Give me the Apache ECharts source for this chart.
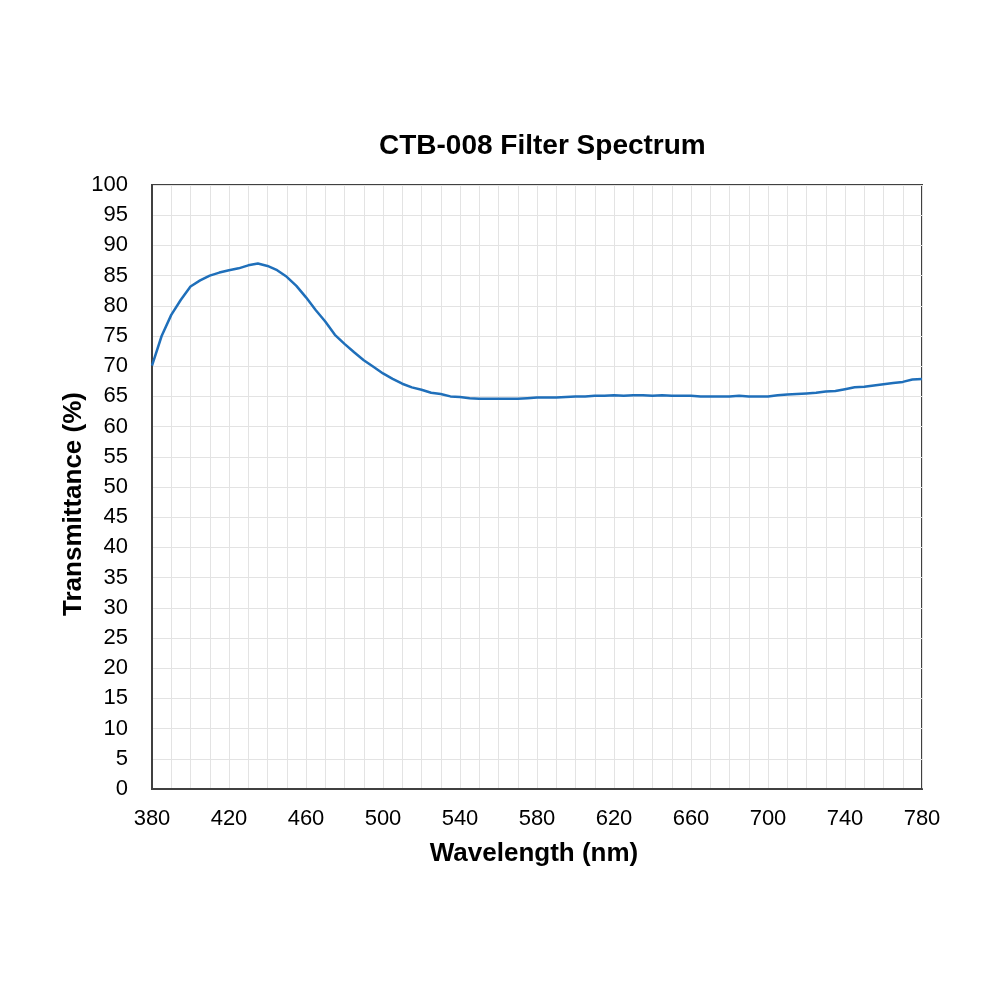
<html>
<head>
    <meta charset="UTF-8">
    <title>CTB-008 Filter Spectrum</title>
    <script src="https://cdn.jsdelivr.net/npm/echarts@6/dist/echarts.min.js"></script>
    <style>
        body { padding: 0; margin: 0; overflow: hidden; background: #fff; }
        #chart { width: 1000px; height: 1000px; }
    </style>
</head>
<body>
<div id="chart"></div>
<script>
    // wavelength (nm), every 5 nm
    const wavelengths = [];
    for (let w = 380; w <= 780; w += 5) wavelengths.push(w);

    // transmittance (%)
    const transmittance = [
        70.1, 75.0, 78.5, 81.0, 83.2, 84.2, 85.0, 85.5, 85.9, 86.2,
        86.7, 87.0, 86.6, 85.9, 84.8, 83.3, 81.4, 79.3, 77.4, 75.2,
        73.7, 72.3, 71.0, 69.9, 68.8, 67.9, 67.1, 66.5, 66.1, 65.6,
        65.4, 65.0, 64.9, 64.7, 64.6, 64.6, 64.6, 64.6, 64.6, 64.7,
        64.8, 64.8, 64.8, 64.9, 65.0, 65.0, 65.1, 65.1, 65.2, 65.1,
        65.2, 65.2, 65.1, 65.2, 65.1, 65.1, 65.1, 65.0, 65.0, 65.0,
        65.0, 65.1, 65.0, 65.0, 65.0, 65.2, 65.3, 65.4, 65.5, 65.6,
        65.8, 65.9, 66.2, 66.5, 66.6, 66.8, 67.0, 67.2, 67.4, 67.8,
        67.9
    ];

    const font = '"Liberation Sans", Arial, sans-serif';
    const ec = echarts.init(document.getElementById('chart'));

    const option = {
        animation: false,
        title: {
            text: 'CTB-008 Filter Spectrum',
            left: 374,
            top: 127,
            textStyle: { fontFamily: font, fontSize: 28, fontWeight: 'bold', color: '#000' }
        },
        grid: {
            left: 152, right: 78, top: 185, bottom: 211,
            show: true, borderColor: '#404040', borderWidth: 2
        },
        xAxis: {
            type: 'value',
            min: 380, max: 780, interval: 10,
            name: 'Wavelength (nm)',
            nameLocation: 'middle',
            nameGap: 52,
            nameMoveOverlap: false,
            nameTextStyle: { fontFamily: font, fontSize: 26, fontWeight: 'bold', color: '#000', padding: [0, 6, 0, 0] },
            axisLine: { lineStyle: { color: '#404040', width: 2 } },
            axisTick: { show: false },
            axisLabel: {
                fontFamily: font, fontSize: 22, color: '#000', margin: 19,
                formatter: v => ((v - 380) % 40 === 0 ? String(v) : '')
            },
            splitLine: { lineStyle: { color: '#e3e3e3', width: 1 } }
        },
        yAxis: {
            type: 'value',
            min: 0, max: 100, interval: 5,
            name: 'Transmittance (%)',
            nameLocation: 'middle',
            nameGap: 65,
            nameRotate: 90,
            nameMoveOverlap: false,
            nameTextStyle: { fontFamily: font, fontSize: 26, fontWeight: 'bold', color: '#000', padding: [0, 34, 0, 0] },
            axisLine: { show: true, lineStyle: { color: '#404040', width: 2 } },
            axisTick: { show: false },
            axisLabel: { fontFamily: font, fontSize: 22, color: '#000', margin: 24 },
            splitLine: { lineStyle: { color: '#e3e3e3', width: 1 } }
        },
        series: [{
            type: 'line',
            data: wavelengths.map((w, i) => [w, transmittance[i]]),
            showSymbol: false,
            smooth: false,
            lineStyle: { color: '#1f6fba', width: 2.5 }
        }]
    };
    ec.setOption(option);
</script>
</body>
</html>
